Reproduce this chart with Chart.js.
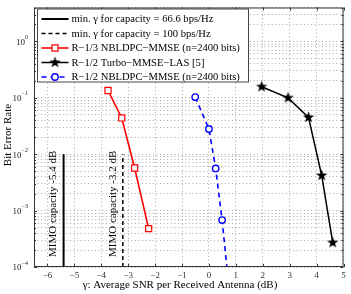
<!DOCTYPE html>
<html>
<head>
<meta charset="utf-8">
<script src="https://cdn.jsdelivr.net/npm/chart.js@4.4.1/dist/chart.umd.min.js"></script>
<style>
  html, body { margin: 0; padding: 0; background: #fff; }
  #wrap { width: 351px; height: 294px; }
</style>
</head>
<body>
<div id="wrap"><canvas id="chart"></canvas></div>
<script>
// values
const capacityLowX = [-5.4, -5.4];
const capacityHighX = [-3.2, -3.2];
const capacityY = [1e-4, 1e-2];
const nbldpc13X = [-3.75, -3.24, -2.76, -2.24];
const nbldpc13Y = [0.135, 0.044, 0.0057, 0.00048];
const turboX = [1.96, 2.94, 3.70, 4.19, 4.60];
const turboY = [0.157, 0.10, 0.045, 0.0042, 0.00027];
const nbldpc12X = [-0.51, 0.0, 0.25, 0.49, 0.75];
const nbldpc12Y = [0.103, 0.028, 0.0056, 0.00068, 0.00004];

const xTicks = [-6, -5, -4, -3, -2, -1, 0, 1, 2, 3, 4, 5];
const yDecades = [-4, -3, -2, -1, 0];
const legendLabels = [
  "min. \u03b3 for capacity = 66.6 bps/Hz",
  "min. \u03b3 for capacity = 100 bps/Hz",
  "R\u22121/3 NBLDPC\u2212MMSE (n=2400 bits)",
  "R\u22121/2 Turbo\u2212MMSE\u2212LAS [5]",
  "R\u22121/2 NBLDPC\u2212MMSE (n=2400 bits)"
];
const capacityNotes = [
  { x: -5.4, text: "MIMO capacity -5.4 dB" },
  { x: -3.2, text: "MIMO capacity -3.2 dB" }
];
const xTitle = "\u03b3: Average SNR per Received Antenna (dB)";
const yTitle = "Bit Error Rate";

const serif = "'Liberation Serif', 'DejaVu Serif', serif";
const pts = (xs, ys) => xs.map((x, i) => ({ x, y: ys[i] }));

// filled five point star marker
const star = document.createElement("canvas");
star.width = 13; star.height = 13;
{
  const s = star.getContext("2d");
  s.fillStyle = "#000";
  s.beginPath();
  for (let i = 0; i < 10; i++) {
    const r = i % 2 ? 2.4 : 6;
    const a = -Math.PI / 2 + i * Math.PI / 5;
    s.lineTo(6.5 + r * Math.cos(a), 6.5 + r * Math.sin(a));
  }
  s.closePath();
  s.fill();
}

const datasets = [
  { data: pts(capacityLowX, capacityY), borderColor: "#000", borderWidth: 2, pointRadius: 0 },
  { data: pts(capacityHighX, capacityY), borderColor: "#000", borderWidth: 1.5, borderDash: [4, 3], pointRadius: 0 },
  { data: pts(nbldpc13X, nbldpc13Y), borderColor: "#ff0000", borderWidth: 1.6, pointStyle: "rect",
    pointRadius: 4.3, pointBorderWidth: 1.2, pointBorderColor: "#ff0000", pointBackgroundColor: "#fff" },
  { data: pts(turboX, turboY), borderColor: "#000", borderWidth: 1.5, pointStyle: star,
    pointRadius: 6, pointBackgroundColor: "#000" },
  { data: pts(nbldpc12X, nbldpc12Y), borderColor: "#0000ff", borderWidth: 1.6, borderDash: [5, 4],
    pointStyle: "circle", pointRadius: 3.2, pointBorderWidth: 1.4, pointBorderColor: "#0000ff", pointBackgroundColor: "#fff" }
];
datasets.forEach((d, i) => { d.label = legendLabels[i]; d.fill = false; d.tension = 0; });

const extras = {
  id: "extras",
  afterDatasetsDraw(chart) {
    const { ctx, chartArea: a, scales } = chart;
    ctx.save();
    // box
    ctx.strokeStyle = "#333";
    ctx.lineWidth = 1;
    ctx.setLineDash([]);
    ctx.strokeRect(a.left + 0.5, a.top + 0.5, a.right - a.left - 1, a.bottom - a.top - 1);

    // inward tick marks
    ctx.beginPath();
    xTicks.forEach(v => {
      const x = Math.round(scales.x.getPixelForValue(v)) + 0.5;
      ctx.moveTo(x, a.bottom); ctx.lineTo(x, a.bottom - 3);
      ctx.moveTo(x, a.top); ctx.lineTo(x, a.top + 3);
    });
    scales.y.ticks.forEach(t => {
      const y = Math.round(scales.y.getPixelForValue(t.value)) + 0.5;
      const len = t.major ? 3 : 2;
      ctx.moveTo(a.left, y); ctx.lineTo(a.left + len, y);
      ctx.moveTo(a.right, y); ctx.lineTo(a.right - len, y);
    });
    ctx.stroke();

    // y tick labels 10^n
    ctx.fillStyle = "#222";
    ctx.textBaseline = "middle";
    yDecades.forEach(p => {
      const y = scales.y.getPixelForValue(Math.pow(10, p));
      const exp = p === 0 ? "0" : "\u2212" + Math.abs(p);
      ctx.font = "6px " + serif;
      const ew = ctx.measureText(exp).width;
      const ex = a.left - 6 - ew;
      ctx.textAlign = "left";
      ctx.fillText(exp, ex, y - 4);
      ctx.font = "9px " + serif;
      ctx.textAlign = "right";
      ctx.fillText("10", ex, y + 1);
    });

    // axis titles
    ctx.fillStyle = "#000";
    ctx.font = "11px " + serif;
    ctx.textAlign = "center";
    ctx.textBaseline = "middle";
    ctx.fillText(xTitle, 180, 285);
    ctx.save();
    ctx.translate(8, 135);
    ctx.rotate(-Math.PI / 2);
    ctx.fillText(yTitle, 0, 0);
    ctx.restore();

    // capacity notes
    ctx.textAlign = "left";
    capacityNotes.forEach(n => {
      ctx.save();
      ctx.translate(scales.x.getPixelForValue(n.x) - 10, a.bottom - 10);
      ctx.rotate(-Math.PI / 2);
      ctx.fillText(n.text, 0, 0);
      ctx.restore();
    });

    // legend box
    const x0 = a.left + 3.5, y0 = a.top + 1.5, w = 211, h = 73;
    ctx.fillStyle = "#fff";
    ctx.fillRect(x0, y0, w, h);
    ctx.strokeStyle = "#444";
    ctx.lineWidth = 1;
    ctx.strokeRect(x0, y0, w, h);
    chart.data.datasets.forEach((ds, i) => {
      const y = y0 + 10 + i * 14.5;
      ctx.strokeStyle = ds.borderColor;
      ctx.lineWidth = ds.borderWidth;
      ctx.setLineDash(ds.borderDash || []);
      ctx.beginPath();
      ctx.moveTo(x0 + 4, y);
      ctx.lineTo(x0 + 31, y);
      ctx.stroke();
      ctx.setLineDash([]);
      if (ds.pointRadius > 0) {
        ctx.fillStyle = ds.pointBackgroundColor;
        ctx.strokeStyle = ds.pointBorderColor || ds.borderColor;
        ctx.lineWidth = ds.pointBorderWidth || 1;
        Chart.helpers.drawPoint(ctx, { pointStyle: ds.pointStyle, radius: ds.pointRadius, rotation: 0, borderWidth: ds.pointBorderWidth || 1 }, x0 + 17.5, y);
      }
      ctx.fillStyle = "#000";
      ctx.font = "10.6px " + serif;
      ctx.textAlign = "left";
      ctx.textBaseline = "middle";
      ctx.fillText(ds.label, x0 + 34, y + 0.5);
    });
    ctx.restore();
  }
};

new Chart(document.getElementById("chart"), {
  type: "line",
  data: { datasets },
  plugins: [extras],
  options: {
    responsive: true,
    maintainAspectRatio: false,
    animation: false,
    layout: { padding: { top: 6, right: 5, left: 0, bottom: 0 } },
    plugins: { legend: { display: false }, tooltip: { enabled: false } },
    scales: {
      x: {
        type: "linear",
        min: -6.5,
        max: 5,
        afterBuildTicks: s => { s.ticks = xTicks.map(v => ({ value: v })); },
        afterFit: s => { s.height = 27; },
        ticks: {
          color: "#333",
          font: { family: serif, size: 9 },
          padding: 3,
          maxRotation: 0,
          callback: v => (v < 0 ? "\u2212" + Math.abs(v) : String(v))
        },
        grid: { color: "#a8a8a8", lineWidth: 1, drawTicks: false },
        border: { display: false, dash: [1, 2.6] },
        title: { display: false }
      },
      y: {
        type: "logarithmic",
        min: 1e-4,
        max: 4,
        afterBuildTicks: s => {
          const t = [];
          yDecades.forEach(p => {
            for (let m = 1; m <= 9; m++) {
              const v = m * Math.pow(10, p);
              if (v <= 4) t.push({ value: v, major: m === 1 });
            }
          });
          s.ticks = t;
        },
        afterFit: s => { s.width = 34; },
        ticks: { display: false },
        grid: { color: "#a8a8a8", lineWidth: 1, drawTicks: false },
        border: { display: false, dash: [1, 2.6] },
        title: { display: false }
      }
    }
  }
});
</script>
</body>
</html>
